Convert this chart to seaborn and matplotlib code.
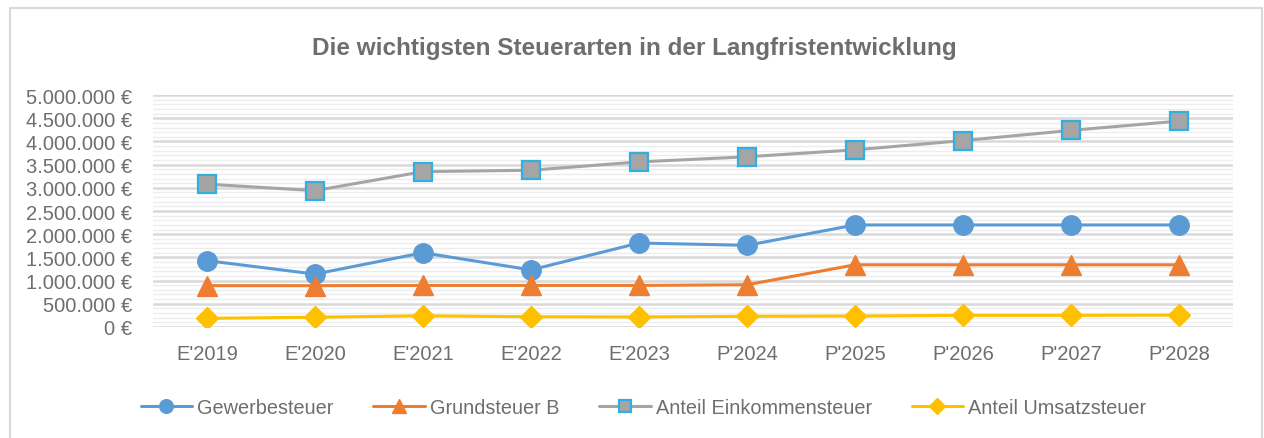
import numpy as np
import pandas as pd
import seaborn as sns
import matplotlib.pyplot as plt
import matplotlib.ticker as mticker
from matplotlib.patches import Rectangle

# Werte (in Euro)
jahre = ["E'2019", "E'2020", "E'2021", "E'2022", "E'2023",
         "P'2024", "P'2025", "P'2026", "P'2027", "P'2028"]
gewerbesteuer = [1430000, 1140000, 1600000, 1230000, 1810000,
                 1760000, 2200000, 2200000, 2200000, 2200000]
grundsteuer_b = [890000, 890000, 895000, 895000, 895000,
                 910000, 1340000, 1340000, 1340000, 1340000]
anteil_est = [3080000, 2940000, 3350000, 3380000, 3560000,
              3670000, 3820000, 4020000, 4240000, 4440000]
anteil_ust = [185000, 210000, 240000, 220000, 215000,
              230000, 235000, 250000, 250000, 255000]

reihen = ["Gewerbesteuer", "Grundsteuer B", "Anteil Einkommensteuer", "Anteil Umsatzsteuer"]

df = pd.DataFrame({
    "Jahr": jahre * 4,
    "Wert": gewerbesteuer + grundsteuer_b + anteil_est + anteil_ust,
    "Reihe": np.repeat(reihen, len(jahre)),
})

sns.set_style("white")
plt.rcParams['font.family'] = ['Liberation Sans', 'DejaVu Sans']

stil = {
    "Gewerbesteuer": dict(color="#5B9BD5", marker="o", markersize=14, mec="#5B9BD5"),
    "Grundsteuer B": dict(color="#ED7D31", marker="^", markersize=15, mec="#ED7D31"),
    "Anteil Einkommensteuer": dict(color="#A5A5A5", marker="s", markersize=12.5, mec="#2FB0E3", mew=1.6),
    "Anteil Umsatzsteuer": dict(color="#FFC000", marker="D", markersize=11, mec="#FFC000"),
}

fig = plt.figure(figsize=(12.64, 4.39), dpi=100)
ax = fig.add_axes([0.121, 0.253, 0.8545, 0.528])

for name in reihen:
    s = stil[name]
    sns.lineplot(data=df[df["Reihe"] == name], x="Jahr", y="Wert", ax=ax,
                 color=s["color"], marker=s["marker"], markersize=s["markersize"],
                 markeredgecolor=s["mec"], markeredgewidth=s.get("mew", 1),
                 linewidth=2.2, label=name, sort=False)

ax.set_xlim(-0.5, len(jahre) - 0.5)
ax.set_ylim(0, 5000000)
ax.yaxis.set_major_locator(mticker.MultipleLocator(500000))
ax.yaxis.set_minor_locator(mticker.MultipleLocator(100000))
ax.yaxis.set_major_formatter(mticker.FuncFormatter(
    lambda v, p: f"{int(round(v)):,}".replace(",", ".") + " €"))
ax.grid(axis="y", which="major", color="#D9D9D9", linewidth=1.8)
ax.grid(axis="y", which="minor", color="#EDEDED", linewidth=1.0)
ax.set_axisbelow(True)
for sp in ax.spines.values():
    sp.set_visible(False)
ax.tick_params(axis="both", which="both", length=0, labelsize=14.5, colors="#6E6E6E")
ax.tick_params(axis="y", pad=15)
ax.tick_params(axis="x", pad=12)
ax.set_xlabel("")
ax.set_ylabel("")

ax.get_legend().remove()
handles, labels = ax.get_legend_handles_labels()
leg = fig.legend(handles, labels, loc="center", bbox_to_anchor=(0.509, 0.07), ncol=4,
                 frameon=False, fontsize=14.3, handlelength=2.6, handletextpad=0.25,
                 columnspacing=2.0, labelcolor="#6E6E6E", markerscale=0.7)

fig.text(0.502, 0.89, "Die wichtigsten Steuerarten in der Langfristentwicklung",
         ha="center", va="center", fontsize=17.5, fontweight="bold", color="#6E6E6E")

fig.patches.append(Rectangle((10 / 1264, -0.05), 1252 / 1264, 1.05 - 9 / 439,
                             transform=fig.transFigure, fill=False,
                             edgecolor="#D9D9D9", linewidth=1.5))

fig.savefig("out.png", dpi=100)
